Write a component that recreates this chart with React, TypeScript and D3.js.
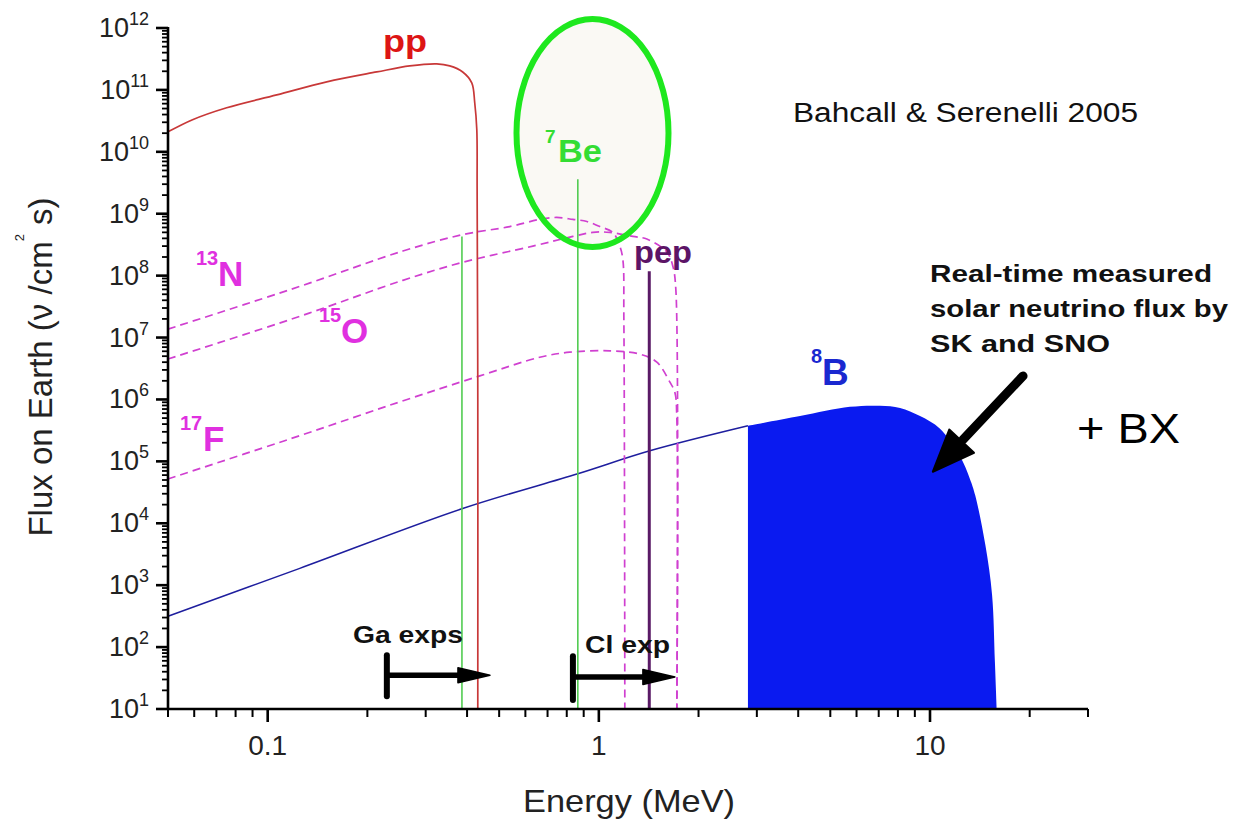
import React from 'react';
import * as d3 from 'd3';

// ---- data (energy in MeV, flux in cm^-2 s^-1 MeV^-1) ----
const ppEnergy = [0.05, 0.0593, 0.0752, 0.1065, 0.1508, 0.2135, 0.2685, 0.324, 0.3546, 0.388, 0.4133, 0.4219, 0.428, 0.429, 0.431, 0.431];
const ppFlux = [2.1e10, 3.3e10, 5.15e10, 8.3e10, 1.35e11, 1.95e11, 2.44e11, 2.63e11, 2.44e11, 1.95e11, 1.3e11, 6.2e10, 2.3e10, 2.5e9, 1e6, 10];

const n13Energy = [0.05, 0.125, 0.256, 0.388, 0.538, 0.663, 0.746, 0.835, 0.92, 1.007, 1.102, 1.157, 1.182, 1.19, 1.198];
const n13Flux = [1.37e7, 6.7e7, 2.5e8, 4.6e8, 6.2e8, 8.1e8, 8.7e8, 8.1e8, 7.5e8, 6.2e8, 5.0e8, 3.0e8, 1.8e8, 2e7, 10];

const o15Energy = [0.05, 0.125, 0.256, 0.388, 0.632, 0.835, 0.959, 1.079, 1.267, 1.396, 1.605, 1.674, 1.708, 1.72];
const o15Flux = [4.5e6, 2.2e7, 8.4e7, 1.64e8, 3.0e8, 4.3e8, 5.0e8, 5.0e8, 4.3e8, 3.9e8, 2.4e8, 1.4e8, 6e7, 10];

const f17Energy = [0.05, 0.125, 0.25, 0.437, 0.663, 0.817, 1.079, 1.33, 1.497, 1.639, 1.697, 1.72, 1.72];
const f17Flux = [5.2e4, 2.6e5, 9.1e5, 2.4e6, 4.8e6, 5.8e6, 6.1e6, 5.4e6, 4.0e6, 1.9e6, 1.3e6, 4.9e5, 10];

const b8LineEnergy = [0.05, 0.125, 0.388, 0.864, 1.426, 2.82];
const b8LineFlux = [315, 1.87e3, 1.73e4, 6.3e4, 1.48e5, 3.75e5];

const b8FillEnergy = [2.82, 4.05, 5.73, 7.06, 8.12, 9.33, 10.7, 12.3, 13.2, 13.7, 14.7, 15.4, 15.7, 15.9];
const b8FillFlux = [3.75e5, 5.4e5, 7.6e5, 7.9e5, 7.3e5, 5.4e5, 3.4e5, 1.23e5, 5.2e4, 2.8e4, 4.4e3, 690, 59, 10];

const be7LineEnergy = [0.386, 0.864];
const be7LineFlux = [4.3e8, 3.6e9];
const pepLineEnergy = [1.42];
const pepLineFlux = [1.18e8];

const xMajorTicks = [0.1, 1, 10];
const xTickLabels = ['0.1', '1', '10'];
const yMajorExponents = [1, 2, 3, 4, 5, 6, 7, 8, 9, 10, 11, 12];

const FONT = 'Liberation Sans, Arial, Helvetica, sans-serif';

const zip = (e: number[], f: number[]) => e.map((v, i) => ({ e: v, f: f[i] }));

export default function App() {
  const x = d3.scaleLog().domain([0.05, 30]).range([168, 1088]);
  const y = d3.scaleLog().domain([10, 1e12]).range([709, 28]);
  const X0 = x(0.05), X1 = x(30), Ybot = y(10), Ytop = y(1e12);

  const line = d3.line<{ e: number; f: number }>()
    .x(d => x(d.e)).y(d => y(d.f))
    .curve(d3.curveCatmullRom.alpha(0.5));
  const area = d3.area<{ e: number; f: number }>()
    .x(d => x(d.e)).y0(Ybot).y1(d => y(d.f))
    .curve(d3.curveCatmullRom.alpha(0.5));

  // minor ticks
  const yMinor: number[] = [];
  for (let k = 1; k < 12; k++) for (let m = 2; m <= 9; m++) yMinor.push(m * Math.pow(10, k));
  const xMinor: number[] = [0.05];
  [0.01, 0.1, 1, 10].forEach(b => { for (let m = 2; m <= 9; m++) { const v = m * b; if (v >= 0.05 && v <= 30 && !xMajorTicks.includes(v)) xMinor.push(v); } });

  // annotation arrow geometry
  const bigFrom: [number, number] = [x(19.1), y(2.4e6)];
  const bigTip: [number, number] = [x(10.2), y(6.8e4)];
  const dx = bigFrom[0] - bigTip[0], dy = bigFrom[1] - bigTip[1];
  const len = Math.hypot(dx, dy);
  const ux = dx / len, uy = dy / len;
  const headLen = 42, headHalf = 17;
  const bx = bigTip[0] + ux * headLen, by = bigTip[1] + uy * headLen;
  const bigHead = `${bigTip[0]},${bigTip[1]} ${bx - uy * headHalf},${by + ux * headHalf} ${bx + uy * headHalf},${by - ux * headHalf}`;

  const hArrow = (e0: number, e1: number, fy: number, fLo: number, fHi: number) => {
    const x0 = x(e0), x1 = x(e1), yy = y(fy);
    return (
      <g>
        <line x1={x0} y1={y(fHi)} x2={x0} y2={y(fLo)} stroke="#000" strokeWidth={6} strokeLinecap="round" />
        <line x1={x0} y1={yy} x2={x1 - 26} y2={yy} stroke="#000" strokeWidth={5.5} />
        <polygon points={`${x1},${yy} ${x1 - 32},${yy - 7.5} ${x1 - 32},${yy + 7.5}`} fill="#000" stroke="#000" strokeWidth={1.5} strokeLinejoin="round" />
      </g>
    );
  };

  return (
    <svg width={1238} height={821} style={{ position: 'absolute', left: 0, top: 0, background: '#fff' }} fontFamily={FONT}>
      <rect x={0} y={0} width={1238} height={821} fill="#fff" />

      {/* highlight ellipse fill */}
      <ellipse cx={592.5} cy={133} rx={76} ry={114} fill="#faf9f4" />

      {/* 8B filled region */}
      <path d={area(zip(b8FillEnergy, b8FillFlux)) || ''} fill="#0a1af0" />
      <path d={line(zip(b8LineEnergy, b8LineFlux)) || ''} fill="none" stroke="#1e1e9e" strokeWidth={1.5} />

      {/* CNO dashed */}
      <path d={line(zip(n13Energy, n13Flux)) || ''} fill="none" stroke="#d040d0" strokeWidth={1.7} strokeDasharray="8 5" />
      <path d={line(zip(o15Energy, o15Flux)) || ''} fill="none" stroke="#d040d0" strokeWidth={1.7} strokeDasharray="8 5" />
      <path d={line(zip(f17Energy, f17Flux)) || ''} fill="none" stroke="#d040d0" strokeWidth={1.7} strokeDasharray="8 5" />

      {/* line sources */}
      {be7LineEnergy.map((e, i) => (
        <line key={'be' + i} x1={x(e)} x2={x(e)} y1={y(be7LineFlux[i])} y2={Ybot} stroke="#52cc52" strokeWidth={1.6} />
      ))}
      {pepLineEnergy.map((e, i) => (
        <line key={'pep' + i} x1={x(e)} x2={x(e)} y1={y(pepLineFlux[i])} y2={Ybot} stroke="#5a1a66" strokeWidth={3} />
      ))}

      {/* pp */}
      <path d={line(zip(ppEnergy, ppFlux)) || ''} fill="none" stroke="#c83838" strokeWidth={1.7} />

      {/* ellipse stroke */}
      <ellipse cx={592.5} cy={133} rx={76} ry={114} fill="none" stroke="#1ee81e" strokeWidth={6} />

      {/* axes */}
      <line x1={X0} x2={X1} y1={Ybot} y2={Ybot} stroke="#000" strokeWidth={2.6} />
      <line x1={X0} x2={X0} y1={Ytop - 1} y2={Ybot + 1} stroke="#000" strokeWidth={2.6} />
      {yMajorExponents.map(k => (
        <line key={'ym' + k} x1={X0 - 12} x2={X0} y1={y(Math.pow(10, k))} y2={y(Math.pow(10, k))} stroke="#000" strokeWidth={2.6} />
      ))}
      {yMinor.map((v, i) => (
        <line key={'yn' + i} x1={X0 - 6} x2={X0} y1={y(v)} y2={y(v)} stroke="#000" strokeWidth={1.8} />
      ))}
      {xMajorTicks.map(v => (
        <line key={'xm' + v} x1={x(v)} x2={x(v)} y1={Ybot} y2={Ybot + 13} stroke="#000" strokeWidth={2.6} />
      ))}
      {xMinor.map((v, i) => (
        <line key={'xn' + i} x1={x(v)} x2={x(v)} y1={Ybot} y2={Ybot + 8} stroke="#000" strokeWidth={2} />
      ))}

      {/* tick labels */}
      {xMajorTicks.map((v, i) => (
        <text key={'xl' + v} x={x(v)} y={755} textAnchor="middle" fontSize={28} fill="#222">{xTickLabels[i]}</text>
      ))}
      {yMajorExponents.map(k => (
        <text key={'yl' + k} x={149} y={y(Math.pow(10, k)) + 9} textAnchor="end" fontSize={27} fill="#222">
          <tspan>10</tspan>
          <tspan dy={-12} fontSize={18}>{k}</tspan>
        </text>
      ))}

      {/* axis titles */}
      <text x={629} y={812} textAnchor="middle" fontSize={32} fill="#222" textLength={212} lengthAdjust="spacingAndGlyphs">Energy (MeV)</text>
      <text transform="translate(52,367) rotate(-90)" textAnchor="middle" fontSize={33} fill="#222">
        <tspan>Flux on Earth (ν /cm</tspan>
        <tspan dy={-28} fontSize={13}>2</tspan>
        <tspan dy={28}> s)</tspan>
      </text>

      {/* source labels */}
      <text x={383} y={52} fontSize={32} fontWeight="bold" fill="#dd1515" textLength={44} lengthAdjust="spacingAndGlyphs">pp</text>
      <text x={545} y={143} fontSize={19} fontWeight="bold" fill="#33dd33">7</text>
      <text x={558} y={162} fontSize={31} fontWeight="bold" fill="#33dd33" textLength={44} lengthAdjust="spacingAndGlyphs">Be</text>
      <text x={634} y={263} fontSize={32} fontWeight="bold" fill="#5c1466" textLength={58} lengthAdjust="spacingAndGlyphs">pep</text>

      <text x={196} y={265} fontSize={20} fontWeight="bold" fill="#e030e0">13</text>
      <text x={218} y={286} fontSize={35} fontWeight="bold" fill="#e030e0">N</text>
      <text x={319} y={322} fontSize={20} fontWeight="bold" fill="#e030e0">15</text>
      <text x={341} y={343} fontSize={35} fontWeight="bold" fill="#e030e0">O</text>
      <text x={180} y={430} fontSize={20} fontWeight="bold" fill="#e030e0">17</text>
      <text x={203} y={451} fontSize={35} fontWeight="bold" fill="#e030e0">F</text>

      <text x={811} y={363} fontSize={20} fontWeight="bold" fill="#1a28d0">8</text>
      <text x={822} y={385} fontSize={37} fontWeight="bold" fill="#1a28d0">B</text>

      {/* other annotations */}
      <text x={793} y={122} fontSize={27} fill="#111" textLength={345} lengthAdjust="spacingAndGlyphs">Bahcall &amp; Serenelli 2005</text>
      <text x={930} y={282} fontSize={24} fontWeight="bold" fill="#111" textLength={282} lengthAdjust="spacingAndGlyphs">Real-time measured</text>
      <text x={930} y={317} fontSize={24} fontWeight="bold" fill="#111" textLength={298} lengthAdjust="spacingAndGlyphs">solar neutrino flux by</text>
      <text x={930} y={352} fontSize={24} fontWeight="bold" fill="#111" textLength={180} lengthAdjust="spacingAndGlyphs">SK and SNO</text>
      <text x={1077} y={443} fontSize={42} fill="#000" textLength={103} lengthAdjust="spacingAndGlyphs">+ BX</text>

      <line x1={bigFrom[0]} y1={bigFrom[1]} x2={bx + ux * 2} y2={by + uy * 2} stroke="#000" strokeWidth={9} strokeLinecap="round" />
      <polygon points={bigHead} fill="#000" stroke="#000" strokeWidth={2} strokeLinejoin="round" />

      <text x={353} y={643} fontSize={24} fontWeight="bold" fill="#111" textLength={110} lengthAdjust="spacingAndGlyphs">Ga exps</text>
      <text x={585} y={653} fontSize={24} fontWeight="bold" fill="#111" textLength={85} lengthAdjust="spacingAndGlyphs">Cl exp</text>
      {hArrow(0.229, 0.469, 35, 16, 74)}
      {hArrow(0.835, 1.697, 33, 14, 71)}
    </svg>
  );
}
